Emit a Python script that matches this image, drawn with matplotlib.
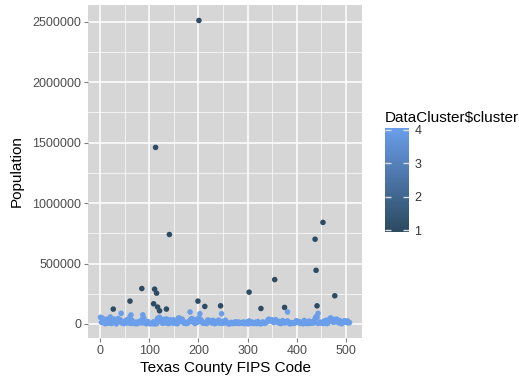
import numpy as np
import matplotlib
matplotlib.use('Agg')
import matplotlib.pyplot as plt
from matplotlib.colors import LinearSegmentedColormap

plt.rcParams['font.family'] = ['Liberation Sans', 'DejaVu Sans']

# every county FIPS code (odd numbers 1..507) with a rough population in thousands
county_fips = np.arange(1, 508, 2)
county_pop_k = [
    55, 13, 48, 22, 9, 2, 39, 23, 7, 17,
    58, 4, 32, 30, 40, 8, 1, 17, 45, 28,
    35, 12, 9, 6, 3, 25, 11, 35, 8, 14,
    60, 4, 30, 14, 7, 3, 15, 2, 5, 19,
    12, 26, 9, 45, 50, 8, 3, 4, 21, 6,
    2, 5, 4, 3, 18, 1, 7, 2, 45, 50,
    55, 20, 22, 6, 38, 30, 8, 42, 12, 4,
    30, 33, 8, 19, 35, 5, 16, 11, 2, 48,
    50, 37, 18, 40, 22, 6, 14, 3, 9, 8,
    21, 30, 40, 45, 15, 14, 4, 35, 12, 30,
    50, 20, 35, 22, 6, 12, 10, 5, 4, 33,
    29, 24, 17, 8, 30, 27, 2, 10, 16, 9,
    32, 12, 6, 5, 20, 7, 15, 31, 8, 11,
    1, 4, 2, 13, 10, 3, 6, 18, 11, 5,
    17, 4, 6, 12, 8, 16, 3, 14, 7, 15,
    1, 25, 10, 18, 5, 9, 4, 14, 6, 3,
    20, 7, 3, 2, 8, 17, 9, 5, 11, 18,
    30, 40, 25, 28, 35, 20, 12, 24, 35, 18,
    15, 22, 6, 3, 10, 28, 14, 9, 12, 20,
    25, 17, 3, 2, 11, 10, 4, 6, 15, 27,
    18, 12, 20, 4, 9, 6, 2, 30, 11, 7,
    3, 12, 24, 5, 16, 8, 18, 9, 45, 60,
    55, 5, 12, 16, 8, 11, 4, 22, 7, 30,
    3, 6, 25, 45, 50, 30, 17, 14, 38, 20,
    40, 22, 9, 28, 19, 2, 14, 21, 27, 15,
    13, 25, 9, 12,
]
county_cluster = [4] * len(county_pop_k)

# mid sized counties, still in cluster 4
mid_fips = [43, 63, 87, 183, 203, 247, 381, 443]
mid_pop = [88000, 75000, 76000, 99000, 85000, 85000, 99000, 88000]
mid_cluster = [4, 4, 4, 4, 4, 4, 4, 4]

# large counties, cluster 1
big_fips = [201, 113, 141, 453, 437, 439, 477, 355, 303, 85, 111, 115, 109,
            117, 121, 135, 61, 27, 199, 213, 245, 327, 375, 441]
big_pop = [2510000, 1460000, 740000, 840000, 701000, 444000, 233000, 367000,
           263000, 293000, 288000, 255000, 167000, 140000, 109000, 123000,
           189000, 123000, 189000, 145000, 150000, 128000, 137000, 150000]
big_cluster = [1] * len(big_fips)

cmap = LinearSegmentedColormap.from_list('clus', ['#2D4B62', '#6A9EEA'])

fig = plt.figure(figsize=(5.19, 3.77), dpi=100)
ax = fig.add_axes([88/519, 39/377, 274/519, 333/377])
ax.set_facecolor('#D6D6D6')

ax.scatter(county_fips, np.array(county_pop_k) * 1000, c=county_cluster, cmap=cmap,
           vmin=1, vmax=4, s=16, linewidths=0, zorder=3)
ax.scatter(mid_fips, mid_pop, c=mid_cluster, cmap=cmap, vmin=1, vmax=4,
           s=16, linewidths=0, zorder=3)
ax.scatter(big_fips, big_pop, c=big_cluster, cmap=cmap, vmin=1, vmax=4,
           s=16, linewidths=0, zorder=4)

ax.set_xlim(-24.3, 532.3)
ax.set_ylim(-116000, 2638000)
ax.set_xticks([0, 100, 200, 300, 400, 500])
ax.set_xticks([50, 150, 250, 350, 450], minor=True)
ax.set_yticks([0, 500000, 1000000, 1500000, 2000000, 2500000])
ax.set_yticklabels(['0', '500000', '1000000', '1500000', '2000000', '2500000'])
ax.set_yticks([250000, 750000, 1250000, 1750000, 2250000], minor=True)
ax.grid(which='major', color='white', linewidth=1.1, zorder=0)
ax.grid(which='minor', color='white', linewidth=0.5, zorder=0)
ax.set_axisbelow(True)
for sp in ax.spines.values():
    sp.set_visible(False)
ax.tick_params(which='major', length=3, color='#7F7F7F', labelsize=9,
               labelcolor='#4D4D4D', pad=2)
ax.tick_params(which='minor', length=0)
ax.set_xlabel('Texas County FIPS Code', fontsize=11, labelpad=3)
ax.set_ylabel('Population', fontsize=11, labelpad=6)

# colour bar legend
cax = fig.add_axes([385/519, 145/377, 24/519, 104/377])
grad = np.linspace(0.95, 4.05, 200).reshape(-1, 1)
cax.imshow(grad, cmap=cmap, vmin=1, vmax=4, aspect='auto', origin='lower',
           extent=[0, 1, 0.95, 4.05])
cax.set_xlim(0, 1)
cax.set_ylim(0.95, 4.05)
cax.set_xticks([])
cax.set_yticks([1, 2, 3, 4])
cax.tick_params(axis='y', direction='in', length=4, width=1, color='#DDDDDD',
                left=True, right=True, labelleft=False, labelright=True,
                labelsize=9, labelcolor='#333333', pad=4)
for sp in cax.spines.values():
    sp.set_visible(False)
fig.text(385/519, 1 - 118/377, 'DataCluster$cluster', fontsize=11,
         ha='left', va='center')

plt.savefig('out.png', dpi=100)
